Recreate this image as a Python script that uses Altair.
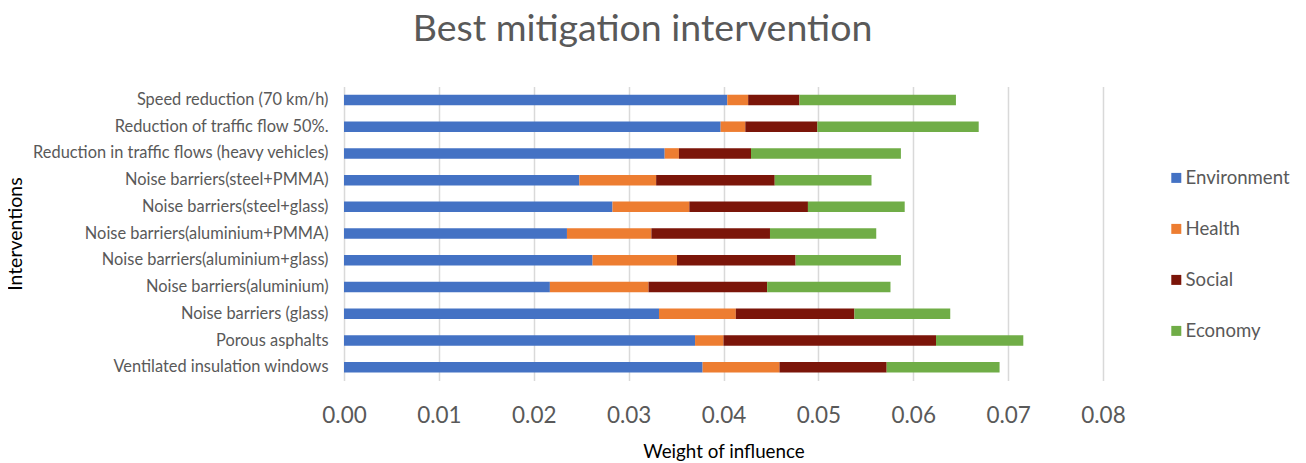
import altair as alt
import pandas as pd

interventions = [
    "Speed reduction (70 km/h)",
    "Reduction of traffic flow 50%.",
    "Reduction in traffic flows (heavy vehicles)",
    "Noise barriers(steel+PMMA)",
    "Noise barriers(steel+glass)",
    "Noise barriers(aluminium+PMMA)",
    "Noise barriers(aluminium+glass)",
    "Noise barriers(aluminium)",
    "Noise barriers (glass)",
    "Porous asphalts",
    "Ventilated insulation windows",
]
environment = [0.0404, 0.0397, 0.0338, 0.0248, 0.0283, 0.0235, 0.0262, 0.0217, 0.0332, 0.0370, 0.0378]
health = [0.0022, 0.0026, 0.0015, 0.0081, 0.0081, 0.0089, 0.0089, 0.0104, 0.0081, 0.0030, 0.0081]
social = [0.0054, 0.0076, 0.0076, 0.0125, 0.0125, 0.0125, 0.0125, 0.0125, 0.0125, 0.0224, 0.0113]
economy = [0.0165, 0.0170, 0.0158, 0.0102, 0.0102, 0.0112, 0.0111, 0.0130, 0.0101, 0.0092, 0.0119]

criteria = ["Environment", "Health", "Social", "Economy"]
colors = ["#4472C4", "#ED7D31", "#7B1509", "#70AD47"]

rows = []
for ci, (name, vals) in enumerate(zip(criteria, [environment, health, social, economy])):
    for it, v in zip(interventions, vals):
        rows.append({"Intervention": it, "Criterion": name, "Weight": v, "order": ci})
df = pd.DataFrame(rows)

FONT = "Lato"
GRAY = "#595959"

chart = alt.Chart(df).mark_bar(size=10.5).encode(
    x=alt.X(
        "Weight:Q",
        stack="zero",
        scale=alt.Scale(domain=[0, 0.08], nice=False),
        axis=alt.Axis(
            title="Weight of influence",
            values=[0, 0.01, 0.02, 0.03, 0.04, 0.05, 0.06, 0.07, 0.08],
            format=".2f",
            labelFontSize=22.5,
            labelColor=GRAY,
            labelFont=FONT,
            labelPadding=24,
            labelFlush=False,
            ticks=False,
            domain=False,
            grid=True,
            gridColor="#D9D9D9",
            gridWidth=1.5,
            titleFont=FONT,
            titleFontSize=18.8,
            titleFontWeight="normal",
            titleColor="#000000",
            titleBaseline="alphabetic",
            titleY=77,
        ),
    ),
    y=alt.Y(
        "Intervention:N",
        sort=interventions,
        axis=alt.Axis(
            title="Interventions",
            labelFontSize=16.4,
            labelColor=GRAY,
            labelFont=FONT,
            labelPadding=16,
            ticks=False,
            domain=False,
            labelLimit=400,
            titleFont=FONT,
            titleFontSize=19.5,
            titleFontWeight="normal",
            titleColor="#000000",
            titleBaseline="alphabetic",
            titleX=-323,
        ),
    ),
    color=alt.Color(
        "Criterion:N",
        scale=alt.Scale(domain=criteria, range=colors),
        legend=alt.Legend(
            title=None,
            orient="none",
            legendX=823,
            legendY=82,
            symbolType="square",
            symbolSize=100,
            symbolStrokeWidth=0,
            labelFontSize=18.6,
            labelFont=FONT,
            labelColor=GRAY,
            rowPadding=32,
            labelOffset=0,
        ),
    ),
    order=alt.Order("order:Q", sort="ascending"),
).properties(
    width=759,
    height=294,
    title=alt.TitleParams(
        "Best mitigation intervention",
        font=FONT,
        fontSize=37.5,
        fontWeight="normal",
        color=GRAY,
        anchor="middle",
        baseline="alphabetic",
        offset=47.6,
        dx=-81,
        dy=40,
    ),
    padding={"left": 336, "top": 78.6, "right": 195, "bottom": 82},
    autosize=alt.AutoSizeParams(type="none"),
).configure_view(stroke=None)

chart.save("out.html", embed_options={"renderer": "svg", "actions": False})
